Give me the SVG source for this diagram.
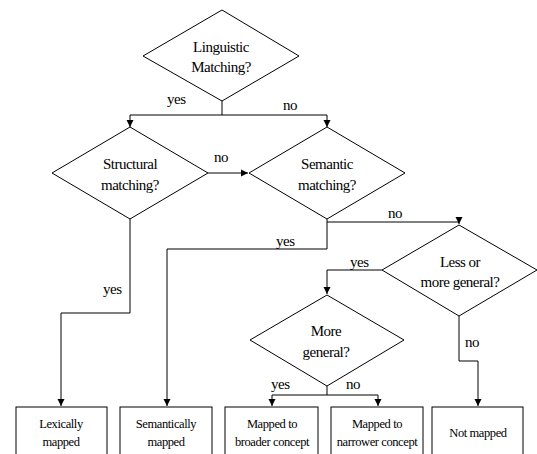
<svg xmlns="http://www.w3.org/2000/svg" width="537" height="454" viewBox="0 0 537 454" font-family="'Liberation Serif', 'DejaVu Serif', serif">
<defs>
<marker id="ah" markerWidth="8" markerHeight="8" refX="7" refY="4" orient="auto" markerUnits="userSpaceOnUse">
<path d="M0,0.5 L7,4 L0,7.5 Z" fill="#000"/>
</marker>
<style>
.shape{fill:#fff;stroke:#000;stroke-width:1}
.conn{fill:none;stroke:#000;stroke-width:1;marker-end:url(#ah)}
.line{fill:none;stroke:#000;stroke-width:1}
text{font-family:'Liberation Serif','DejaVu Serif',serif;fill:#000}
.t{font-size:15px;text-anchor:middle;letter-spacing:-0.5px}
.b{font-size:12.5px;text-anchor:middle;letter-spacing:-0.4px}
.l{font-size:15px;letter-spacing:-0.5px}
</style>
</defs>
<rect width="537" height="454" fill="#fff"/>
<g id="connectors">
<polyline class="line" points="222,101 222,115"/>
<polyline class="conn" points="222,115 130,115 130,127"/>
<polyline class="conn" points="222,115 327,115 327,127"/>
<polyline class="conn" points="208,173 248,173"/>
<polyline class="conn" points="130,219 130,313 61,313 61,406"/>
<polyline class="conn" points="327,219 327,249 167,249 167,406"/>
<polyline class="conn" points="327,222 459,222 459,224"/>
<polyline class="conn" points="382,270 327,270 327,294"/>
<polyline class="conn" points="459,316 459,361 478,361 478,406"/>
<polyline class="line" points="327,386 327,395"/>
<polyline class="conn" points="327,395 272,395 272,406"/>
<polyline class="conn" points="327,395 378,395 378,406"/>
<text class="l" x="167" y="104">yes</text>
<text class="l" x="283" y="110">no</text>
<text class="l" x="214" y="162">no</text>
<text class="l" x="103" y="294">yes</text>
<text class="l" x="276" y="246">yes</text>
<text class="l" x="388" y="218">no</text>
<text class="l" x="350" y="267">yes</text>
<text class="l" x="465" y="347">no</text>
<text class="l" x="271" y="389">yes</text>
<text class="l" x="346" y="389">no</text>
</g>
<g id="linguistic">
<polygon class="shape" points="222,10 299,56 222,101 143,56"/>
<text class="t" x="221" y="52">Linguistic</text>
<text class="t" x="221" y="72">Matching?</text>
</g>
<g id="structural">
<polygon class="shape" points="130,127 208,173 130,219 52,173"/>
<text class="t" x="130" y="169">Structural</text>
<text class="t" x="130" y="190">matching?</text>
</g>
<g id="semantic">
<polygon class="shape" points="327,127 405,173 327,219 249,173"/>
<text class="t" x="327" y="169">Semantic</text>
<text class="t" x="327" y="190">matching?</text>
</g>
<g id="lessmore">
<polygon class="shape" points="459,225 537,270 459,316 382,270"/>
<text class="t" x="460" y="267">Less or</text>
<text class="t" x="460" y="287">more general?</text>
</g>
<g id="moregeneral">
<polygon class="shape" points="327,295 404,340 327,386 250,340"/>
<text class="t" x="326" y="336">More</text>
<text class="t" x="326" y="357">general?</text>
</g>
<g id="lexically">
<rect class="shape" x="16" y="407" width="91" height="55"/>
<text class="b" x="61" y="428">Lexically</text>
<text class="b" x="61" y="446">mapped</text>
</g>
<g id="semantically">
<rect class="shape" x="120" y="407" width="92" height="55"/>
<text class="b" x="166" y="428">Semantically</text>
<text class="b" x="166" y="446">mapped</text>
</g>
<g id="broader">
<rect class="shape" x="225" y="407" width="93" height="55"/>
<text class="b" x="272" y="428">Mapped to</text>
<text class="b" x="272" y="446">broader concept</text>
</g>
<g id="narrower">
<rect class="shape" x="331" y="407" width="92" height="55"/>
<text class="b" x="377" y="428">Mapped to</text>
<text class="b" x="377" y="446">narrower concept</text>
</g>
<g id="notmapped">
<rect class="shape" x="432" y="407" width="91" height="55"/>
<text class="b" x="478" y="437">Not mapped</text>
</g>
</svg>
